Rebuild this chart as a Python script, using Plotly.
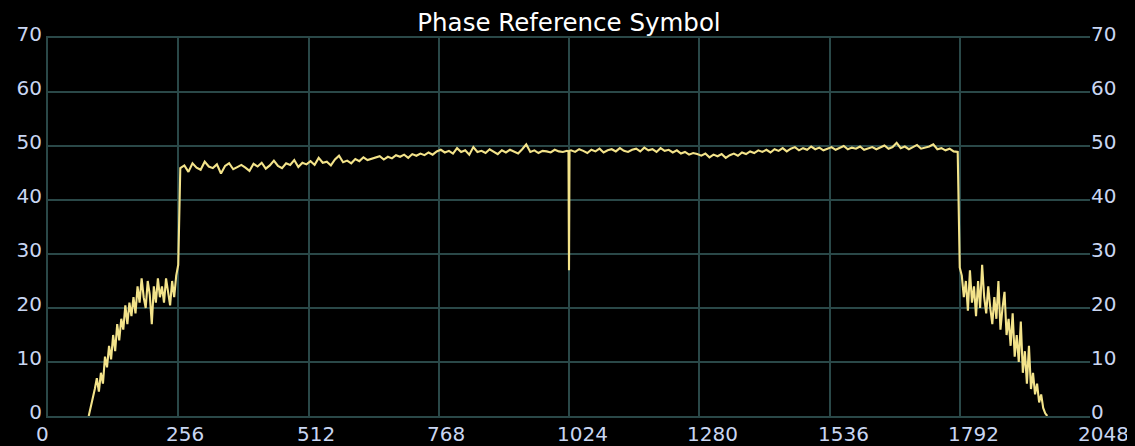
import plotly.graph_objects as go

# ---- data (dB-like level per carrier bin) ----
left_start, left_step = 80, 4
left_vals = [0, 1.5, 3, 5, 7, 4.5, 8, 6, 11, 9, 13, 10.5, 15, 12, 17, 14, 18, 16,
             20.5, 17, 21, 18.5, 22, 19, 24, 21, 25.5, 22, 20, 25, 22.5, 17, 24, 21,
             25.5, 22, 24, 21, 25.5, 23, 20.5, 25, 22, 26, 28]

plateau_a_start, plateau_step = 260, 8
plateau_a = [
    45.9, 46.4, 45.2, 46.8, 46.0, 45.6, 47.1, 46.2, 45.9, 46.6, 44.9, 46.3, 46.8, 45.7, 46.1, 46.5,
    46.0, 45.4, 46.7, 46.2, 46.9, 45.8, 46.4, 47.3, 46.3, 45.9, 46.8, 46.5, 47.4, 46.1, 46.9, 46.6,
    47.2, 46.5, 47.8, 46.9, 47.1, 46.4, 47.5, 48.2, 47.0, 47.3, 46.8, 47.6, 47.2, 47.9, 47.4, 47.6,
    47.8, 48.1, 47.5, 48.0, 47.7, 48.3, 48.0, 48.4, 47.8, 48.5, 48.2, 48.6, 48.3, 48.8, 48.4, 49.0,
    49.3, 48.8, 49.1, 48.6, 49.6, 48.9, 49.2, 48.4, 49.8, 48.9, 49.1, 48.7, 49.4, 49.0, 48.5, 49.2,
    48.8, 49.3, 49.0, 48.6, 49.4, 50.3, 48.9, 49.2, 48.7, 49.1, 49.0, 48.8, 49.3, 49.0, 48.9, 49.1,
]

dc_bins = [1023, 1024, 1025]
dc_vals = [49.0, 27.0, 49.1]

plateau_b_start = 1028
plateau_b = [
    49.2, 48.9, 49.4, 49.1, 48.7, 49.3, 49.0, 49.5, 48.8, 49.2, 49.4, 49.0, 49.6, 49.1, 48.9, 49.3,
    49.5, 49.0, 49.7, 49.2, 49.4, 48.9, 49.6, 49.1, 49.3, 48.8, 49.2, 48.6, 48.9, 48.4, 48.7, 48.5,
    48.2, 48.6, 47.9, 48.4, 48.1, 48.5, 47.8, 48.3, 48.6, 48.2, 48.8, 48.5, 49.0, 48.7, 49.2, 48.9,
    49.3, 48.8, 49.4, 49.1, 49.6, 49.0, 49.5, 49.8, 49.2, 49.6, 49.3, 49.9, 49.4, 49.7, 49.2, 49.5,
    49.8, 49.3, 49.6, 50.0, 49.4, 49.7, 49.5, 49.9, 49.3, 49.6, 49.8, 49.4, 49.7, 50.1, 49.5, 49.8,
    50.6, 49.6, 49.9, 49.4, 49.8, 50.2, 49.5, 49.7, 49.9, 50.3, 49.4, 49.6, 49.2, 49.5, 49.0, 48.9,
]

right_start, right_step = 1792, 4
right_vals = [27.5, 26, 22, 25, 19.5, 27, 21, 24, 18.5, 25, 20, 28, 22, 19, 24, 20, 17, 22,
              18, 25, 16, 20, 23, 15, 18, 13, 19, 11, 15, 10, 17.5, 8, 12, 6, 13, 5, 8, 4,
              6, 2.5, 4, 1.5, 0.5, 0]

x_ticks = [0, 256, 512, 768, 1024, 1280, 1536, 1792, 2048]
y_ticks = [0, 10, 20, 30, 40, 50, 60, 70]
title_text = "Phase Reference Symbol"

# ---- assemble series ----
xs, ys = [], []
for i, v in enumerate(left_vals):
    xs.append(left_start + i * left_step); ys.append(v)
for i, v in enumerate(plateau_a):
    xs.append(plateau_a_start + i * plateau_step); ys.append(v)
xs += dc_bins; ys += dc_vals
for i, v in enumerate(plateau_b):
    xs.append(plateau_b_start + i * plateau_step); ys.append(v)
for i, v in enumerate(right_vals):
    xs.append(right_start + i * right_step); ys.append(v)

grid = "#2a4848"
label_color = "#c9d6f2"
tick_font = dict(family="DejaVu Sans", size=20, color=label_color)

fig = go.Figure()
fig.add_trace(go.Scatter(x=xs, y=ys, mode="lines",
                         line=dict(color="#f3e38a", width=2.1),
                         hoverinfo="skip", showlegend=False))
fig.add_trace(go.Scatter(x=[None], y=[None], yaxis="y2", mode="lines",
                         showlegend=False, hoverinfo="skip"))

axis_common = dict(showgrid=True, gridcolor=grid, gridwidth=2, zeroline=False,
                   showline=True, linecolor=grid, linewidth=2, ticks="",
                   tickfont=tick_font, automargin=False)

# x tick labels: left-aligned just before each grid line, as in the reference
annotations = [dict(x=t, xref="x", y=0, yref="paper", text=str(t), showarrow=False,
                    xanchor="left", yanchor="top", xshift=-13, yshift=-5,
                    borderpad=0, font=tick_font)
               for t in x_ticks]

# the page body has an 8px margin, so the figure is sized to fill the rest
fig.update_layout(
    width=1127, height=438,
    paper_bgcolor="black", plot_bgcolor="black",
    margin=dict(l=40, r=45, t=30, b=30),
    title=dict(text=title_text, x=0.5, xanchor="center", xref="paper",
               y=0.968, yref="container", yanchor="middle", automargin=False,
               font=dict(family="DejaVu Sans", size=24.5, color="white")),
    xaxis=dict(range=[0, 2048], tickvals=x_ticks, showticklabels=False,
               mirror=True, **axis_common),
    yaxis=dict(range=[0, 70], tickvals=y_ticks, ticklabelstandoff=0,
               ticklabelshift=-4, **axis_common),
    yaxis2=dict(range=[0, 70], tickvals=y_ticks, overlaying="y", side="right",
                showgrid=False, zeroline=False, showline=False, ticks="",
                tickfont=tick_font, automargin=False, ticklabelstandoff=0,
                ticklabelshift=-4),
    annotations=annotations,
    showlegend=False,
)

fig.write_html("out.html", post_script="document.body.style.background='black';")
